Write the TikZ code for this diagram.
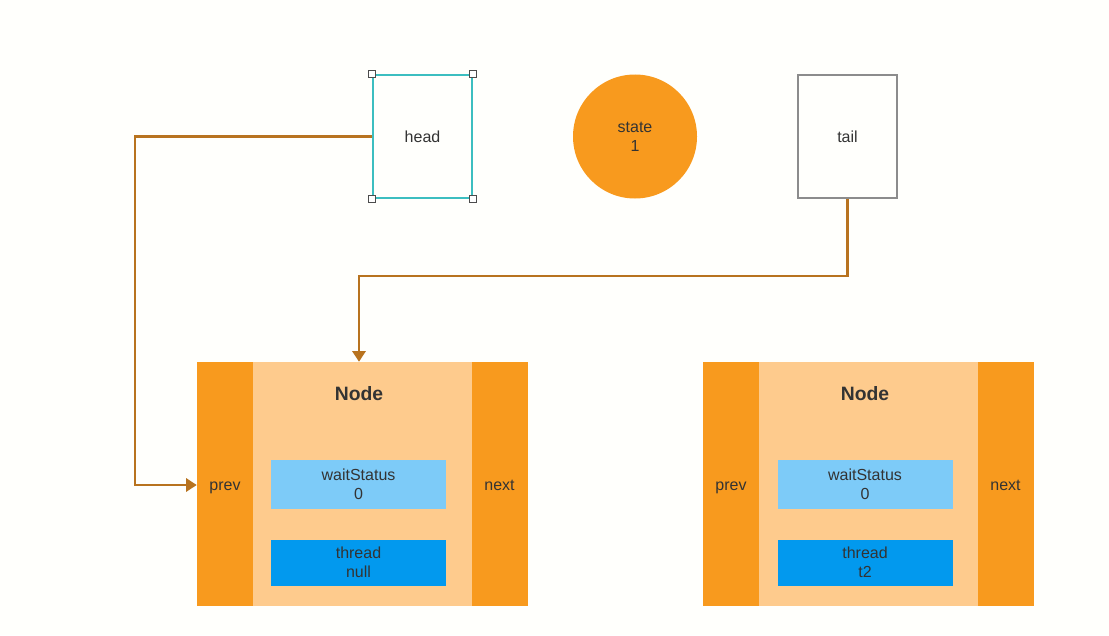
\documentclass[tikz,border=0pt]{standalone}
\usepackage{fontspec}
\setmainfont{Liberation Sans}
\usetikzlibrary{arrows.meta}
\definecolor{orng}{HTML}{F89A1E}
\definecolor{lorng}{HTML}{FECB8D}
\definecolor{lblue}{HTML}{7DCBF8}
\definecolor{dblue}{HTML}{0299EE}
\definecolor{conn}{HTML}{B8731F}
\definecolor{teal}{HTML}{3CBEC0}
\definecolor{txt}{HTML}{333333}
\tikzset{
  every node/.style={font=\fontsize{12pt}{14pt}\selectfont, text=txt, align=center, inner sep=0pt},
  col/.style={fill=orng, draw=none, minimum width=42pt, minimum height=183pt, text height=10.2pt, text depth=1.1pt},
  mid/.style={fill=lorng, draw=none, minimum width=164.25pt, minimum height=183pt},
  wbox/.style={fill=lblue, draw=none, minimum width=131.25pt, minimum height=36.75pt},
  tbox/.style={fill=dblue, draw=none, minimum width=131.25pt, minimum height=34.5pt},
  ptr/.style={draw=teal, line width=1.2pt, minimum width=74.25pt, minimum height=92.25pt},
  handle/.style={draw=black!70, fill=white, line width=0.6pt, minimum size=5.5pt},
  title/.style={font=\bfseries\fontsize{14.5pt}{17pt}\selectfont},
  link/.style={draw=conn, line width=1.6pt, -{Triangle[length=8pt,width=10pt]}}
}
\begin{document}
\begin{tikzpicture}[x=0.75pt,y=-0.75pt]
\fill[white!99!yellow] (0,0) rectangle (1109,635);
\useasboundingbox (0,0) rectangle (1109,635);
% top
\node[ptr] (head) at (422.5,136.5) {head};
\foreach \p [count=\i] in {north west,north east,south west,south east}
  \node[handle] (h\i) at (head.\p) {};
\node[circle, fill=orng, minimum size=93pt] (state) at (635,136.5) {state\\1};
\node[draw=black!45, line width=0.8pt, minimum width=74.25pt, minimum height=92.25pt] (tail) at (847.5,136.5) {tail};
% node 1
\node[mid] (m1) at (362.5,484) {};
\node[col] (p1) at (225,484) {prev};
\node[col] (n1) at (499.5,484) {next};
\node[title] (t1) at (359,393.5) {Node};
\node[wbox] (w1) at (358.5,484.5) {waitStatus\\0};
\node[tbox] (th1) at (358.5,562.5) {thread\\null};
% node 2
\node[mid] (m2) at (868.5,484) {};
\node[col] (p2) at (731,484) {prev};
\node[col] (n2) at (1005.5,484) {next};
\node[title] (t2) at (865,393.5) {Node};
\node[wbox] (w2) at (865,484.5) {waitStatus\\0};
\node[tbox] (th2) at (865,562.5) {thread\\t2};
% connectors
\coordinate (hk1) at (135,136.5);
\coordinate (hk2) at (135,485);
\draw[link] (head.west) -- (hk1) -- (hk2) -- (p1.west |- hk2);
\coordinate (tk1) at (847.5,276);
\coordinate (tk2) at (359,276);
\draw[link] (tail.south) -- (tk1) -- (tk2) -- (tk2 |- m1.north);
\end{tikzpicture}
\end{document}
